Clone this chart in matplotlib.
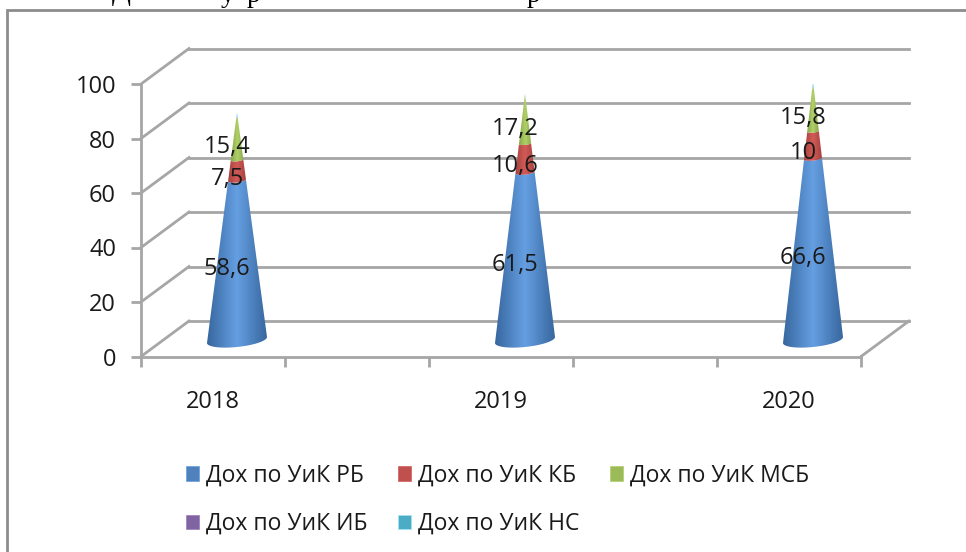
import numpy as np
import matplotlib
matplotlib.use("Agg")
import matplotlib.pyplot as plt
from matplotlib.colors import LinearSegmentedColormap
from matplotlib.patches import Patch, Polygon, Rectangle
from matplotlib.transforms import Affine2D

years = ["2018", "2019", "2020"]
series_names = ["Дох по УиК РБ", "Дох по УиК КБ", "Дох по УиК МСБ", "Дох по УиК ИБ", "Дох по УиК НС"]
dox_rb = [58.6, 61.5, 66.6]
dox_kb = [7.5, 10.6, 10.0]
dox_msb = [15.4, 17.2, 15.8]
dox_ib = [0.0, 0.0, 0.0]
dox_ns = [2.0, 1.0, 2.5]
labels_rb = ["58,6", "61,5", "66,6"]
labels_kb = ["7,5", "10,6", "10"]
labels_msb = ["15,4", "17,2", "15,8"]
y_ticks = [0, 20, 40, 60, 80, 100]
colors = ["#4F81BD", "#C0504D", "#9BBB59", "#8064A2", "#4BACC6"]
dark = ["#36659C", "#A03F3C", "#82A047", "#65497F", "#3A8CA3"]
light = ["#659FE2", "#D25A56", "#B0D067", "#9A7ABD", "#A6E4F5"]
FONT = "Open Sans"
TXT = "#1a1a1a"
GREY = "#A6A6A6"

W, H = 966, 552
fig = plt.figure(figsize=(W / 100, H / 100), dpi=100, facecolor="white")
L, R, T, B = 141, 861, 84, 356.5
ax = fig.add_axes([L / W, 1 - B / H, (R - L) / W, (B - T) / H])
ax.set_xlim(0, 5)
ax.set_ylim(0, 100)
ax.patch.set_alpha(0)
for s in ["top", "right"]:
    ax.spines[s].set_visible(False)
for s in ["left", "bottom"]:
    ax.spines[s].set_color(GREY)
    ax.spines[s].set_linewidth(2)
ax.set_yticks(y_ticks)
ax.set_xticks(range(6))
ax.set_xticklabels([])
ax.tick_params(axis="both", length=7, width=2, color=GREY)
ax.tick_params(axis="y", labelsize=17, labelcolor=TXT, pad=11)
for t in ax.get_yticklabels():
    t.set_family(FONT)

DX, DY = 48, 35.5
back = ax.transData + Affine2D().translate(DX, DY)
for v in y_ticks:
    ax.plot([0, 5], [v, v], color=GREY, lw=2, transform=back, clip_on=False, zorder=1)
    xa, ya = ax.transData.transform((0, v))
    ax.plot([xa, xa + DX], [ya, ya + DY], color=GREY, lw=2,
            transform=None, clip_on=False, zorder=1)
xa, ya = ax.transData.transform((5, 0))
ax.plot([xa, xa + DX], [ya, ya + DY], color=GREY, lw=2, transform=None, clip_on=False, zorder=1)

cat_pos = [0.5, 2.5, 4.5]
for x, lab in zip(cat_pos, years):
    ax.annotate(lab, xy=(x, 0), xytext=(0, -46), textcoords="offset pixels", ha="center",
                va="center", fontsize=17, family=FONT, color=TXT, annotation_clip=False)

# cones
stack = np.array([dox_rb, dox_kb, dox_msb, dox_ib, dox_ns])
HALF_W = 30
CONE_DX, CONE_DY = 24, 16.5
TILT = 3.0
gradient = np.abs(np.linspace(-1, 1, 256)).reshape(1, -1)
inv = ax.transData.inverted()
sy = ax.transData.transform((0, 1))[1] - ax.transData.transform((0, 0))[1]
for j, x in enumerate(cat_pos):
    cx, cy0 = ax.transData.transform((x, 0))
    cx += CONE_DX
    cy0 += CONE_DY
    total = stack[:, j].sum()
    cum = 0.0
    for i in range(stack.shape[0]):
        v = stack[i, j]
        if v <= 0:
            continue
        h0, h1 = cum * sy, (cum + v) * sy
        w0 = HALF_W * (1 - cum / total)
        w1 = HALF_W * (1 - (cum + v) / total)
        t = np.linspace(np.pi, 2 * np.pi, 40)
        e0 = 7.0 * (w0 / HALF_W)
        e1 = 7.0 * (w1 / HALF_W)
        bx = cx + w0 * np.cos(t)
        by = cy0 + h0 + (w0 / HALF_W) * TILT * np.cos(t) + e0 * np.sin(t)
        tx = cx + w1 * np.cos(t[::-1])
        ty = cy0 + h1 + (w1 / HALF_W) * TILT * np.cos(t[::-1]) + e1 * np.sin(t[::-1])
        pts = np.column_stack([np.r_[bx, tx], np.r_[by, ty]])
        poly = Polygon(pts, closed=True, transform=None, fc="none", ec="none")
        ax.add_patch(poly)
        cmap = LinearSegmentedColormap.from_list("c", [light[i], dark[i]])
        (xl, yl), (xr, yr) = inv.transform([(cx - w0 - 1, pts[:, 1].min() - 2),
                                            (cx + w0 + 1, pts[:, 1].max() + 2)])
        im = ax.imshow(gradient, extent=(xl, xr, yl, yr), aspect="auto", cmap=cmap, vmin=0, vmax=1,
                       interpolation="bilinear", zorder=3)
        im.set_clip_path(poly)
        cum += v

ax.set_xlim(0, 5)
ax.set_ylim(0, 100)

# data labels
for j, x in enumerate(cat_pos):
    base = 0.0
    for vals, labs in ((dox_rb, labels_rb), (dox_kb, labels_kb), (dox_msb, labels_msb)):
        ax.annotate(labs[j], xy=(x, base + vals[j] / 2), xytext=(14, 8), textcoords="offset pixels",
                    ha="center", va="center", fontsize=17, family=FONT, color=TXT, zorder=6,
                    annotation_clip=False)
        base += vals[j]

# legend
order = [0, 3, 1, 4, 2]
handles = [Patch(facecolor=colors[i], edgecolor=light[i], linewidth=0.5) for i in order]
leg = fig.legend(handles, [series_names[i] for i in order], ncol=3, frameon=False,
                 loc="upper left", bbox_to_anchor=(165 / W, 1 - 443 / H),
                 prop={"family": FONT, "size": 16.5}, handlelength=0.57, handleheight=0.57,
                 handletextpad=0.3, columnspacing=1.35, labelspacing=1.05)
for t in leg.get_texts():
    t.set_color(TXT)

# frame of the pasted chart, cropped by the picture
fig.add_artist(Rectangle((7 / W, -0.05), 1.2, 1.05 - 10 / H, transform=fig.transFigure,
                         fc="none", ec="#8C8C8C", lw=2, zorder=0))

# cropped line of document text above the chart
for px, base_px, frag in ((121, 0, "Д"), (228, 2, "у"), (254, 2, "р"), (534, 2, "р")):
    fig.text(px / W, 1 - base_px / H, frag, family="Liberation Serif", fontsize=20, color="black",
             ha="center", va="baseline")

fig.savefig("out.png", dpi=100, facecolor="white")
